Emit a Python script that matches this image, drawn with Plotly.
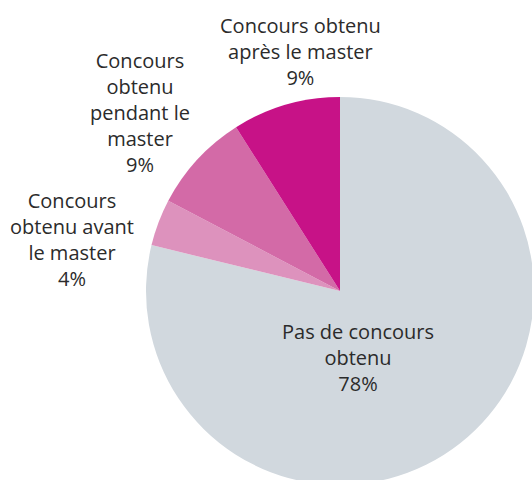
import plotly.graph_objects as go

labels = ["Pas de concours<br>obtenu",
          "Concours<br>obtenu avant<br>le master",
          "Concours<br>obtenu<br>pendant le<br>master",
          "Concours obtenu<br>après le master"]
values = [78.8, 3.9, 8.3, 9.0]
pct_text = ["78%", "4%", "9%", "9%"]
colors = ["#d1d8de", "#dd92bd", "#d36aa7", "#c71287"]

W, H = 560, 500
cx, cy, r = 340, 291, 194

fig = go.Figure(go.Pie(
    labels=labels, values=values, sort=False, direction="clockwise",
    rotation=0, textinfo="none", hoverinfo="skip",
    marker=dict(colors=colors, line=dict(width=0)),
    domain=dict(x=[(cx - r) / W, (cx + r) / W],
                y=[(H - cy - r) / H, (H - cy + r) / H]),
    showlegend=False,
))

# label anchor points (pixels from top-left)
label_pos = [(358, 357), (72, 239), (140, 113), (300, 52)]
font = dict(family="Open Sans", size=20, color="#2b2b2b")
for lab, pct, (px, py) in zip(labels, pct_text, label_pos):
    fig.add_annotation(x=px / W, y=(H - py) / H, xref="paper", yref="paper",
                       text=lab + "<br>" + pct, showarrow=False,
                       xanchor="center", yanchor="middle", align="center", font=font)

fig.update_layout(width=W, height=H, margin=dict(l=0, r=0, t=0, b=0),
                  paper_bgcolor="white", plot_bgcolor="white")

fig.write_html("out.html", config={"displayModeBar": False},
               post_script="document.body.style.margin='0';document.body.style.overflow='hidden';")
